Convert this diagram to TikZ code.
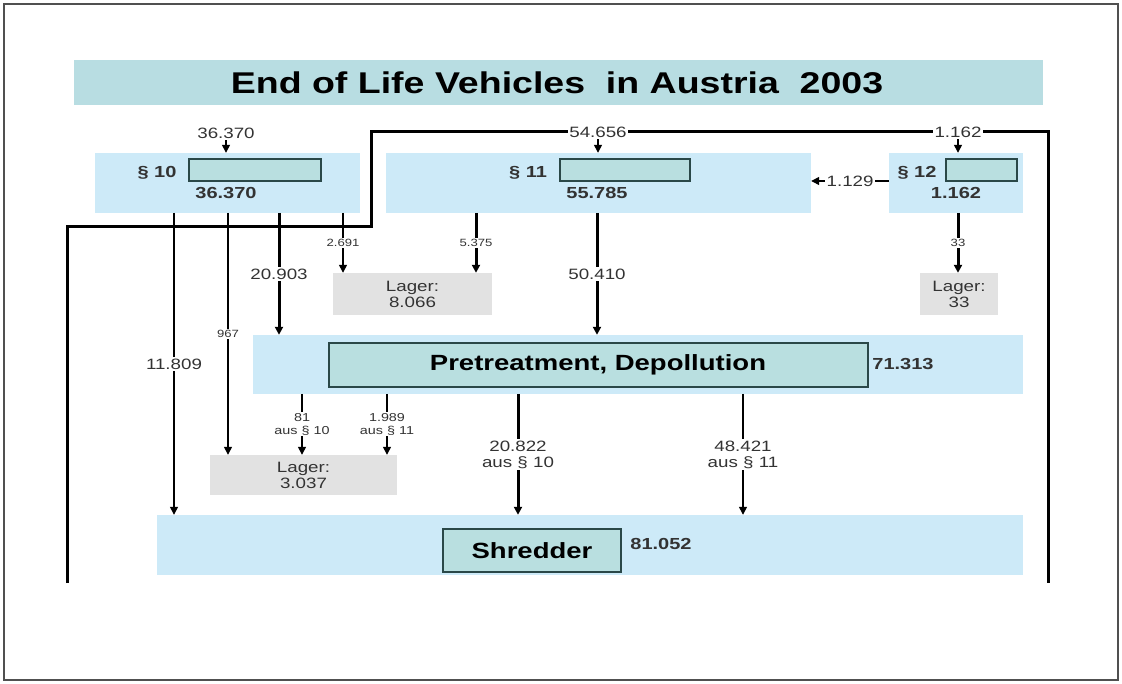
\documentclass[tikz,border=0pt]{standalone}
\usepackage{fontspec}
\setmainfont{Liberation Sans}[FakeStretch=1.25]
\usetikzlibrary{arrows.meta,fit}
\definecolor{bandblue}{HTML}{CDEAF8}
\definecolor{titleteal}{HTML}{B8DDE2}
\definecolor{innerteal}{HTML}{B9DFE0}
\definecolor{innerborder}{HTML}{2A4848}
\definecolor{lagergray}{HTML}{E2E2E2}
\definecolor{txt}{HTML}{333333}
\definecolor{framegray}{HTML}{505050}
\begin{document}
\begin{tikzpicture}[x=1pt,y=-1pt,
  band/.style={fill=bandblue,draw=none,inner sep=0pt},
  innerbox/.style={fill=innerteal,draw=innerborder,line width=1.5pt,inner sep=0pt},
  lager/.style={fill=lagergray,draw=none,inner sep=0pt},
  lagertext/.style={font=\fontsize{15}{16}\selectfont,text=txt,align=center,inner sep=0pt},
  bignum/.style={font=\bfseries\fontsize{16}{18}\selectfont,text=txt,inner sep=1pt},
  lbl/.style={font=\fontsize{15}{16}\selectfont,text=txt,fill=white,inner sep=1.5pt,align=center},
  small/.style={font=\fontsize{10.5}{12}\selectfont,text=txt,fill=white,inner sep=1pt,align=center},
  smalltwo/.style={font=\fontsize{11.5}{13}\selectfont,text=txt,fill=white,inner sep=1pt,align=center},
  thickflow/.style={line width=3pt,-{Triangle[length=8pt,width=8pt]}},
  thinflow/.style={line width=1.4pt,-{Triangle[length=8pt,width=8pt]}},
  loopline/.style={line width=3pt}
]
\useasboundingbox (0,0) rectangle (1122,684);
\draw[framegray,line width=2pt] (4,4) rectangle (1118,680);

% title
\node[fill=titleteal,inner sep=0pt,fit={(74,60) (1043,105)}] (title) {};
\node[font=\bfseries\fontsize{30}{32}\selectfont,inner sep=0pt] (titletext) at (557,83) {End of Life Vehicles\ \ in Austria\ \ 2003};

% bands
\node[band,fit={(95,153) (360,213)}] (b10) {};
\node[band,fit={(386,153) (811,213)}] (b11) {};
\node[band,fit={(889,153) (1023,213)}] (b12) {};
\node[innerbox,fit={(189,159) (321,181)}] (i10) {};
\node[innerbox,fit={(560,159) (690,181)}] (i11) {};
\node[innerbox,fit={(946,159) (1017,181)}] (i12) {};
\node[bignum] (p10) at (157,173) {§ 10};
\node[bignum] (n10) at (226,193) {36.370};
\node[bignum] (p11) at (528,173) {§ 11};
\node[bignum] (n11) at (597,193) {55.785};
\node[bignum] (p12) at (917,173) {§ 12};
\node[bignum] (n12) at (956,193) {1.162};

\node[lager,fit={(333,273) (492,315)}] (lag1) {};
\node[lagertext] (lag1t) at (lag1.center) {Lager:\\8.066};
\node[lager,fit={(920,273) (998,315)}] (lag33) {};
\node[lagertext] (lag33t) at (lag33.center) {Lager:\\33};

\node[band,fit={(253,335) (1023,394)}] (pre) {};
\node[innerbox,fit={(329,343) (868,387)}] (prei) {};
\node[font=\bfseries\fontsize{22}{24}\selectfont,inner sep=0pt] (pret) at (598,365) {Pretreatment, Depollution};
\node[bignum] (n71) at (903,364) {71.313};

\node[lager,fit={(210,455) (397,495)}] (lag3) {};
\node[lagertext] (lag3t) at (lag3.center) {Lager:\\3.037};

\node[band,fit={(157,515) (1023,575)}] (sh) {};
\node[innerbox,fit={(443,529) (621,572)}] (shi) {};
\node[font=\bfseries\fontsize{22}{24}\selectfont,inner sep=0pt] (sht) at (532,551) {Shredder};
\node[bignum] (n81) at (661,544) {81.052};

% loop line
\coordinate (la) at (67,583);
\coordinate (lb) at (67,227);
\coordinate (lc) at (371,227);
\coordinate (ld) at (371,132);
\coordinate (le) at (1048,132);
\coordinate (lf) at (1048,583);
\draw[loopline] (la) -- (lb) -- (lc) -- (ld) -- (le) -- (lf);

% inputs
\node[lbl] (in10) at (226,133) {36.370};
\node[lbl] (in11) at (598,132) {54.656};
\node[lbl] (in12) at (958,132) {1.162};
\draw[thinflow] (in10.south) -- (in10.south |- b10.north);
\draw[thinflow] (in11.south) -- (in11.south |- b11.north);
\draw[thinflow] (in12.south) -- (in12.south |- b12.north);

% 12 -> 11
\coordinate (a12) at (889,181);
\draw[thinflow] (a12) -- (a12 -| b11.east) node[midway,lbl] {1.129};

% from section 10
\coordinate (s1) at (174,213);
\coordinate (s2) at (228,213);
\coordinate (s3) at (279,213);
\coordinate (s4) at (343,213);
\draw[thinflow] (s1) -- (s1 |- sh.north) node[midway,lbl] {11.809};
\draw[thinflow] (s2) -- (s2 |- lag3.north) node[midway,small] {967};
\draw[thickflow] (s3) -- (s3 |- pre.north) node[midway,lbl] {20.903};
\draw[thinflow] (s4) -- (s4 |- lag1.north) node[midway,small] {2.691};

% from section 11
\coordinate (s5) at (476,213);
\coordinate (s6) at (597,213);
\draw[thickflow] (s5) -- (s5 |- lag1.north) node[midway,small] {5.375};
\draw[thickflow] (s6) -- (s6 |- pre.north) node[midway,lbl] {50.410};

% from section 12
\coordinate (s7) at (958,213);
\draw[thickflow] (s7) -- (s7 |- lag33.north) node[midway,small] {33};

% from pretreatment
\coordinate (t1) at (302,394);
\coordinate (t2) at (387,394);
\coordinate (t3) at (518,394);
\coordinate (t4) at (743,394);
\draw[thinflow] (t1) -- (t1 |- lag3.north) node[midway,smalltwo] {81\\aus § 10};
\draw[thinflow] (t2) -- (t2 |- lag3.north) node[midway,smalltwo] {1.989\\aus § 11};
\draw[thickflow] (t3) -- (t3 |- sh.north) node[midway,lbl] {20.822\\aus § 10};
\draw[thinflow] (t4) -- (t4 |- sh.north) node[midway,lbl] {48.421\\aus § 11};
\end{tikzpicture}
\end{document}
